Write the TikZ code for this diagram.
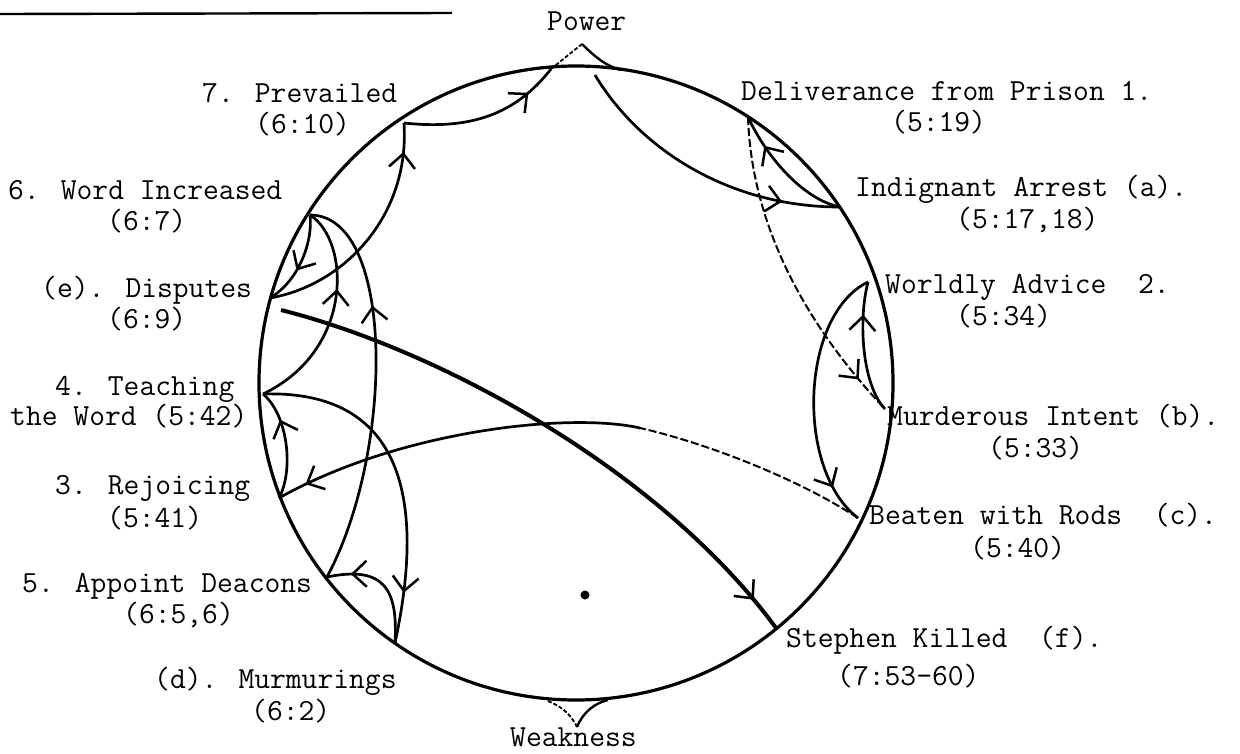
\documentclass[tikz,border=0pt]{standalone}
\usepackage{fontspec}
\usetikzlibrary{arrows.meta,decorations.markings}
\begin{document}
\begin{tikzpicture}[x=1pt,y=-1pt,
  lbl/.style={font=\ttfamily\fontsize{30.7}{32}\selectfont, inner sep=0pt, anchor=base west},
  circ/.style={line width=3.2pt},
  conn/.style={line width=2.7pt},
  dconn/.style={line width=2pt, dash pattern=on 8pt off 3pt},
  heavy/.style={line width=4pt},
  arrowat/.style={postaction={decorate},decoration={markings,mark=at position #1 with {\arrow[line width=2.5pt]{Straight Barb[length=14pt,width=26pt]}}}},
]
\useasboundingbox (0,0) rectangle (1240,753);
% top underline
\coordinate (ul1) at (0,14);
\coordinate (ul2) at (452,13);
\draw[line width=2.4pt] (ul1) -- (ul2);
% circle
\coordinate (C) at (576,383);
\draw[circ] (C) circle[radius=317pt];
% points
\coordinate (pwL) at (551,69);
\coordinate (pwA) at (582,44);
\coordinate (pwR) at (621,70);
\coordinate (pwS) at (595,75);
\coordinate (wkL) at (548,701);
\coordinate (wkA) at (577,727);
\coordinate (wkR) at (608,700);
\coordinate (D1) at (748,117);
\coordinate (IA) at (840,207);
\coordinate (WA) at (868,282);
\coordinate (MI) at (885,409);
\coordinate (BR) at (858,518);
\coordinate (bmid) at (640,428);
\coordinate (R3) at (279,498);
\coordinate (T4) at (263,394);
\coordinate (Md) at (395,643);
\coordinate (AD) at (327,577);
\coordinate (WI) at (310,215);
\coordinate (DS) at (270,298);
\coordinate (DS2) at (281,310);
\coordinate (P7) at (404,123);
\coordinate (SK) at (776,628);
% Power and Weakness marks
\draw[line width=1.8pt, dash pattern=on 4pt off 2pt] (pwL) -- (pwA);
\draw[line width=2.4pt] (pwA) .. controls (595,57) and (606,66) .. (pwR);
\draw[line width=1.8pt, dash pattern=on 4pt off 2pt] (wkL) .. controls (558,705) and (570,712) .. (wkA);
\draw[line width=2.4pt] (wkA) .. controls (583,712) and (595,703) .. (wkR);
% connectors
\draw[conn, arrowat=0.8] (pwS) .. controls (640,150) and (730,207) .. (IA);
\draw[conn, arrowat=0.75] (IA) .. controls (805,200) and (768,160) .. (D1);
\draw[dconn, arrowat=0.88] (D1) .. controls (752,240) and (820,340) .. (MI);
\draw[conn, arrowat=0.75] (MI) .. controls (862,385) and (858,320) .. (WA);
\draw[conn, arrowat=0.85] (WA) .. controls (800,315) and (795,470) .. (BR);
\draw[dconn] (BR) .. controls (800,480) and (710,444) .. (bmid);
\draw[conn, arrowat=0.92] (bmid) .. controls (570,412) and (400,430) .. (R3);
\draw[conn, arrowat=0.72] (R3) .. controls (294,470) and (288,415) .. (T4);
\draw[conn, arrowat=0.85] (T4) .. controls (390,390) and (430,480) .. (Md);
\draw[conn, arrowat=0.8] (Md) .. controls (398,590) and (385,565) .. (AD);
\draw[conn, arrowat=0.7] (AD) .. controls (395,450) and (395,215) .. (WI);
\draw[conn, arrowat=0.62] (T4) .. controls (355,350) and (350,240) .. (WI);
\draw[conn, arrowat=0.6] (WI) .. controls (313,240) and (300,280) .. (DS);
\draw[conn, arrowat=0.88] (DS) .. controls (345,285) and (410,215) .. (P7);
\draw[conn, arrowat=0.8] (P7) .. controls (470,130) and (515,115) .. (pwL);
\draw[heavy, arrowat=0.94] (DS2) .. controls (440,350) and (660,470) .. (SK);
% dot
\coordinate (dot) at (585,595);
\fill (dot) circle[radius=4.5pt];
% labels
\node[lbl] (tPower) at (547,30) {Power};
\node[lbl] (tWeak) at (510,746) {Weakness};
\node[lbl] (tP7a) at (202,102) {7. Prevailed};
\node[lbl] (tP7b) at (255,133) {(6:10)};
\node[lbl] (tWIa) at (8,199) {6. Word Increased};
\node[lbl] (tWIb) at (107,230) {(6:7)};
\node[lbl] (tDSa) at (41,297) {(e). Disputes};
\node[lbl] (tDSb) at (107,328) {(6:9)};
\node[lbl] (tT4a) at (55,395) {4. Teaching};
\node[lbl] (tT4b) at (10,425) {the Word (5:42)};
\node[lbl] (tR3a) at (55,494) {3. Rejoicing};
\node[lbl] (tR3b) at (107,527) {(5:41)};
\node[lbl] (tADa) at (22,592) {5. Appoint Deacons};
\node[lbl] (tADb) at (123,623) {(6:5,6)};
\node[lbl] (tMda) at (154,688) {(d). Murmurings};
\node[lbl] (tMdb) at (251,720) {(6:2)};
\node[lbl] (tD1a) at (741,100) {Deliverance from Prison 1.};
\node[lbl] (tD1b) at (891,131) {(5:19)};
\node[lbl] (tIAa) at (855,196) {Indignant Arrest (a).};
\node[lbl] (tIAb) at (956,228) {(5:17,18)};
\node[lbl] (tWAa) at (885,293) {Worldly Advice\ \ 2.};
\node[lbl] (tWAb) at (956,325) {(5:34)};
\node[lbl] (tMIa) at (887,425) {Murderous Intent (b).};
\node[lbl] (tMIb) at (988,457) {(5:33)};
\node[lbl] (tBRa) at (869,524) {Beaten with Rods\ \ (c).};
\node[lbl] (tBRb) at (970,557) {(5:40)};
\node[lbl] (tSKa) at (786,647) {Stephen Killed\ \ (f).};
\node[lbl] (tSKb) at (837,685) {(7:53-60)};
\end{tikzpicture}
\end{document}
